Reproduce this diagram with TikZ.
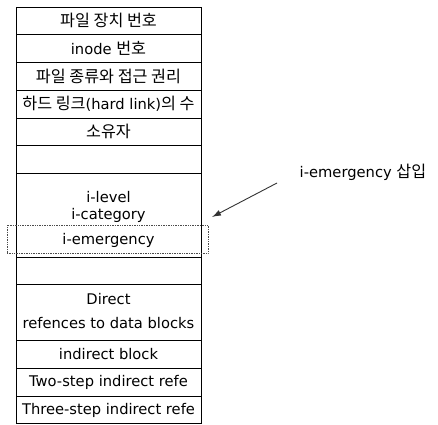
\documentclass[tikz,border=0pt]{standalone}
\usepackage{fontspec}
\setmainfont{DejaVu Sans}
\newfontfamily\krfont{Noto Sans CJK KR}
\newcommand{\kr}[1]{{\krfont\fontsize{16.2}{18}\selectfont #1}}
\usetikzlibrary{arrows.meta}
\begin{document}
\begin{tikzpicture}[x=1pt,y=-1pt,
  cell/.style={draw=black,line width=0.8pt},
  lbl/.style={font=\fontsize{14.7}{16}\selectfont,inner sep=0pt,anchor=center},
  note/.style={draw=black!70,line width=0.7pt,densely dotted},
  pointer/.style={draw=black!80,line width=0.9pt,-{Latex[length=9pt,width=6pt]}}]
\useasboundingbox (0,0) rectangle (438,424);
\fill[white] (0,0) rectangle (438,424);
% rows
\draw[cell] (16,7) rectangle (201,34);
\draw[cell] (16,34) rectangle (201,62);
\draw[cell] (16,62) rectangle (201,90);
\draw[cell] (16,90) rectangle (201,118);
\draw[cell] (16,118) rectangle (201,145);
\draw[cell] (16,145) rectangle (201,173);
\draw[cell] (16,173) rectangle (201,257);
\draw[cell] (16,257) rectangle (201,284);
\draw[cell] (16,284) rectangle (201,340);
\draw[cell] (16,340) rectangle (201,368);
\draw[cell] (16,368) rectangle (201,396);
\draw[cell] (16,396) rectangle (201,423);
\node[lbl] (t1) at (108.5,20.5) {\kr{파일 장치 번호}};
\node[lbl] (t2) at (108.5,48) {inode \kr{번호}};
\node[lbl] (t3) at (108.5,76) {\kr{파일 종류와 접근 권리}};
\node[lbl] (t4) at (108.5,104) {\kr{하드 링크}(hard link)\kr{의 수}};
\node[lbl] (t5) at (108.5,131.5) {\kr{소유자}};
\node[lbl] (t6) at (108.5,197) {i-level};
\node[lbl] (t7) at (108.5,215) {i-category};
\node[lbl] (t8) at (108.5,240) {i-emergency};
\node[lbl] (t9) at (108.5,299) {Direct};
\node[lbl] (t10) at (108.5,323) {refences to data blocks};
\node[lbl] (t11) at (108.5,354) {indirect block};
\node[lbl] (t12) at (108.5,382) {Two-step indirect refe};
\node[lbl] (t13) at (108.5,410) {Three-step indirect refe};
\node[note,minimum width=201pt,minimum height=28pt,inner sep=0pt] (hl) at (107.5,239) {};
\node[lbl] (ann) at (363,172) {i-emergency \kr{삽입}};
\coordinate (from) at (277,183);
\coordinate (to) at (212,217);
\draw[pointer] (from) -- (to);
\end{tikzpicture}
\end{document}
